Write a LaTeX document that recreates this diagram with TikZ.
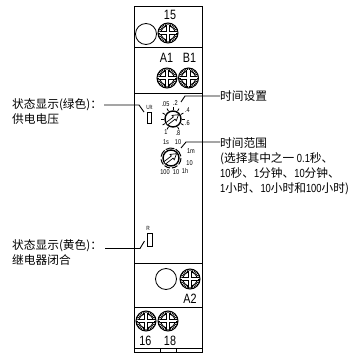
\documentclass[tikz,border=0pt]{standalone}
\usepackage{fontspec}
\usepackage{xcolor}
\usepackage{tikz}
\usetikzlibrary{arrows.meta,positioning,calc}
\newfontfamily\cjk{Noto Sans CJK SC}
\newfontfamily\narrowsf[FakeStretch=0.8]{Liberation Sans}
\newcommand{\nr}[1]{{\narrowsf #1}}
\tikzset{
    diag label/.style={font=\cjk\fontsize{11.7}{15}\selectfont, align=left, inner sep=0pt, anchor=north west},
    diag term/.style={font=\narrowsf\fontsize{13.5}{14}\selectfont, inner sep=0pt},
    diag scale/.style={font=\narrowsf\fontsize{7}{8}\selectfont, inner sep=0pt},
    diag tiny/.style={font=\narrowsf\fontsize{6}{7}\selectfont, inner sep=0pt},
    diag led/.style={draw=black, line width=0.9pt, minimum width=4.5pt, minimum height=11pt, inner sep=0pt},
    diag lamp/.style={draw=black, line width=0.8pt, circle, minimum size=21pt, inner sep=0pt},
    diag wall/.style={draw=black, line width=1pt},
    diag line/.style={draw=black, line width=0.9pt},
    screw/.pic={
        \draw[line width=1pt] (0,0) circle (10);
        \draw[line width=0.8pt] (0,0) circle (7);
        \foreach \a in {0,12,...,348} {
            \draw[line width=0.8pt] (\a:7) -- (\a:10);
        }
        \fill[white] (-2.2,-8) rectangle (2.2,8);
        \fill[white] (-8,-2.2) rectangle (8,2.2);
        \draw[line width=0.9pt] (-1.6,-8.5) -- (-1.6,-1.6) -- (-8.5,-1.6);
        \draw[line width=0.9pt] (1.6,-8.5) -- (1.6,-1.6) -- (8.5,-1.6);
        \draw[line width=0.9pt] (-1.6,8.5) -- (-1.6,1.6) -- (-8.5,1.6);
        \draw[line width=0.9pt] (1.6,8.5) -- (1.6,1.6) -- (8.5,1.6);
    },
    knob/.pic={
        \draw[line width=1.4pt] (0,0) circle (8);
        \draw[line width=0.7pt, fill=white, rotate=38]
            (-7.5,-1.4) -- (1.5,-1.4) -- (1.5,-3.4) -- (7,0) -- (1.5,3.4) -- (1.5,1.4) -- (-7.5,1.4);
    }
}
\begin{document}
\begin{tikzpicture}[x=1pt,y=-1pt]
\useasboundingbox (0,0) rectangle (352,356);

% Housing
\draw[diag wall] (134,352) -- (134,6) -- (202.5,6) -- (202.5,352) -- cycle;
\draw[diag wall] (134,47.5) -- (202.5,47.5);
\draw[diag wall] (134,93) -- (202.5,93);
\draw[diag wall] (134,263) -- (202.5,263);
\draw[diag wall] (134,307) -- (202.5,307);
\draw[diag wall] (134,348) -- (202.5,348);
\draw[line width=0.8pt] (160.7,348) -- (160.7,352);
\draw[line width=0.8pt] (176,348) -- (176,352);

% Terminals
\node[diag lamp] (lamptop) at (146,34) {};
\pic at (168,33) {screw};
\node[diag term] (t15) at (170,14.5) {15};
\pic at (167,78) {screw};
\pic at (188.5,78) {screw};
\node[diag term] (ta1) at (166.5,58) {A1};
\node[diag term] (tb1) at (189.5,58) {B1};
\node[diag lamp] (lampbot) at (166,279) {};
\pic at (190,279) {screw};
\node[diag term] (ta2) at (190,298.5) {A2};
\pic at (146,321) {screw};
\pic at (168,321) {screw};
\node[diag term] (t16) at (145.5,341) {16};
\node[diag term] (t18) at (170,341) {18};

% Indicators
\node[diag led] (ledgreen) at (149.5,118) {};
\node[diag tiny, above=2.5pt of ledgreen] (ledgreent) {U/t};
\node[diag led, minimum height=13pt] (ledyellow) at (150,239.5) {};
\node[diag tiny, above=1.8pt of ledyellow, xshift=-2pt] (ledyellowt) {R};

% Time setting dial
\pic at (173,119) {knob};
\foreach \a in {-240,-210,...,60} {
    \draw[line width=0.8pt] (173,119) ++(\a:9) -- ++(\a:3);
}
\node[diag scale] (d05) at (165.5,104) {.05};
\node[diag scale] (d2) at (175.5,103) {.2};
\node[diag scale] (d4) at (187.5,110) {.4};
\node[diag scale] (d6) at (187.5,123) {.6};
\node[diag scale] (d8) at (178,133.5) {.8};
\node[diag scale] (d1) at (166,132.5) {1};

% Time range dial
\pic at (171,158) {knob};
\foreach \a/\b in {-172/-130,-122/-70,-62/-10,0/40,50/85,95/130,140/172} {
    \draw[line width=1pt] (171,158) ++(\a:10) arc[start angle=\a, end angle=\b, radius=10];
}
\node[diag scale] (r1s) at (166,142) {1s};
\node[diag scale] (r10s) at (178,142) {10};
\node[diag scale] (r1m) at (191,151) {1m};
\node[diag scale] (r10m) at (189.5,163) {10};
\node[diag scale] (r1h) at (185,170.5) {1h};
\node[diag scale] (r10h) at (176,172.5) {10};
\node[diag scale] (r100) at (165,172) {100};

% Labels
\node[diag label] (greentext) at (12,98) {状态显示(绿色)：\\供电电压};
\node[diag label] (settext) at (220,90.5) {时间设置};
\node[diag label] (rangetext) at (220,137) {时间范围\\(选择其中之一 \nr{0.1}秒、\\\nr{10}秒、\nr{1}分钟、\nr{10}分钟、\\\nr{1}小时、\nr{10}小时和\nr{100}小时)};
\node[diag label] (yellowtext) at (12,239.5) {状态显示(黄色)：\\继电器闭合};

% Callouts
\coordinate (greenstart) at (104,105);
\coordinate (greenknee) at (139,105);
\coordinate (greenend) at (144,112);
\coordinate (setknee) at (185,96);
\coordinate (setend) at (181,102);
\coordinate (rangeknee) at (186,142);
\coordinate (rangeend) at (181,148);
\coordinate (yellowstart) at (105,248.5);
\coordinate (yellowknee) at (140,248.5);
\coordinate (yellowend) at (144.5,241);
\draw[diag line] (greenstart) -- (greenknee) -- (greenend);
\draw[diag line] (settext.west |- setknee) -- (setknee) -- (setend);
\draw[diag line] (rangetext.north west |- rangeknee) -- (rangeknee) -- (rangeend);
\draw[diag line] (yellowstart) -- (yellowknee) -- (yellowend);
\end{tikzpicture}
\end{document}
